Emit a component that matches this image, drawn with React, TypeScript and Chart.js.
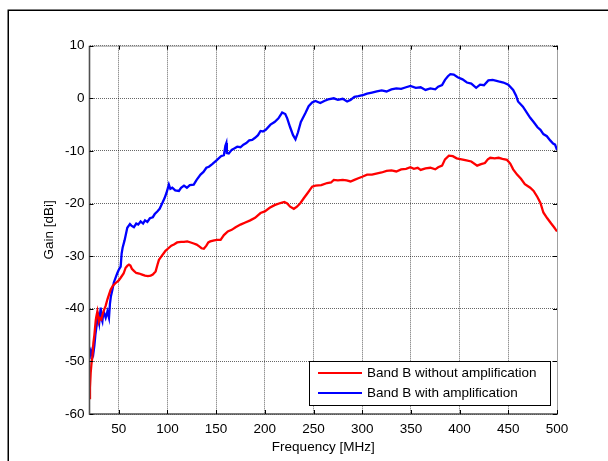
import React, { useEffect, useRef } from "react";
import { Chart, registerables } from "chart.js";

Chart.register(...registerables);

const xTicks = [50, 100, 150, 200, 250, 300, 350, 400, 450, 500];
const yTicks = [-60, -50, -40, -30, -20, -10, 0, 10];

const seriesNames = ["Band B without amplification", "Band B with amplification"];

const redFreq = [20, 20.5, 21.2, 22, 23, 24, 25, 26.4, 27, 28.1, 29, 29.7, 31, 32.2, 33.5, 34.9, 36.5, 38.4, 40, 41.7, 44, 46.9, 50, 52, 55, 57.1, 59, 60.5, 62, 63.5, 65.6, 68, 71, 74, 77, 80, 82.8, 85, 87.9, 90, 91.3, 94, 96.4, 98, 101, 104, 106.7, 110, 114, 117, 120.4, 124, 127, 130, 133, 135, 137.4, 140, 142, 144, 148, 151, 154.6, 158, 162, 166, 170, 175, 180, 185, 190, 195.6, 200, 205, 210, 216, 220, 223, 226, 229.8, 233, 236.6, 240, 244, 248.6, 252, 258, 264, 268, 270.8, 275, 280, 284, 288, 292, 296, 300, 305, 310, 316.6, 320, 325, 330, 335, 340, 345, 349.5, 353, 357, 360, 365, 370, 375, 378, 382, 385, 389, 393, 397, 402, 407, 412, 418, 422, 426, 429, 431.5, 436, 440, 444, 448.6, 452, 455, 459, 463, 467, 472.5, 476, 480, 483, 486, 490, 494, 497, 500];
const redGain = [-57, -55, -52.2, -50.5, -49, -46.5, -45, -42.2, -41.5, -40.5, -41.5, -42.4, -41.8, -42, -41, -40.2, -39.5, -38.2, -37.3, -36.4, -35.6, -35.1, -34.6, -34.1, -33.3, -32.2, -31.8, -31.6, -31.8, -32.4, -32.8, -33.2, -33.3, -33.5, -33.7, -33.8, -33.7, -33.5, -32.9, -31.5, -30.7, -30, -29.4, -29, -28.5, -28, -27.8, -27.4, -27.3, -27.3, -27.2, -27.4, -27.6, -27.8, -28.2, -28.5, -28.6, -28, -27.4, -27.2, -27, -26.9, -26.9, -26, -25.3, -25, -24.5, -24, -23.6, -23.2, -22.7, -21.8, -21.5, -20.8, -20.3, -19.9, -19.7, -20, -20.6, -21, -20.6, -19.9, -19, -18, -16.8, -16.6, -16.5, -16.1, -16, -15.5, -15.6, -15.5, -15.6, -15.8, -15.5, -15.2, -14.9, -14.5, -14.5, -14.2, -14.1, -13.8, -13.7, -13.9, -13.5, -13.4, -13.1, -13.4, -13.2, -13.6, -13.3, -13.2, -13.5, -13.1, -12.8, -11.6, -10.9, -11, -11.4, -11.6, -11.8, -12, -12.8, -12.5, -12.3, -11.6, -11.3, -11.4, -11.3, -11.5, -11.7, -12.4, -13.5, -14.5, -15.3, -16.3, -17, -17.6, -18.8, -19.9, -21.7, -22.8, -23.8, -24.5, -25.3];

const blueFreq = [20, 21, 22, 23, 24, 25, 26, 27.4, 28, 29, 30, 31.5, 32.5, 33.2, 34, 35, 36.6, 38.4, 40, 41, 42, 43.5, 45, 47, 48.6, 50.3, 52, 53, 54, 56, 58.8, 61.5, 63, 65.6, 68, 70, 72.5, 75, 77, 79.4, 82, 85, 87, 89.6, 92, 94.8, 97, 99, 101.5, 103, 105, 108, 111.8, 114, 117, 120, 123, 127, 130, 134, 137, 140, 142.6, 146, 151, 155, 158, 159.5, 160.5, 161, 163, 166, 169, 171.7, 175, 178, 181, 184, 187, 190, 193, 195.6, 198, 201, 205.8, 210, 214, 217.8, 221, 223, 226, 229, 231.5, 234, 237, 241.7, 245, 248.6, 252, 257, 261, 265, 270.8, 275, 280, 284.5, 288, 292, 296, 301.5, 305, 310, 315, 320, 325, 330, 335, 340, 345, 349.5, 355, 360, 365, 370, 375, 378, 382, 385, 388, 390.5, 394, 398, 403, 407.5, 412, 417, 421, 425, 429.5, 434, 440, 445, 450, 455, 458, 460, 465, 470, 472.5, 476, 480, 483, 486, 489.6, 493, 496, 498, 500];
const blueGain = [-49.5, -48, -48.5, -47.7, -48.4, -47, -45, -43, -42, -41.4, -42.6, -39.8, -42, -42.4, -41, -40.8, -41.7, -40.5, -41.7, -39, -37.6, -36.4, -35, -34, -33.2, -32.5, -32, -29.5, -28.4, -27, -24.6, -23.9, -24.2, -24.5, -23.8, -24, -23.4, -23.8, -23.2, -23.5, -22.8, -22.6, -22, -21.5, -21, -19.9, -19, -18, -16.4, -17.2, -17, -17.5, -17.6, -17, -16.6, -17, -16.5, -16.4, -15.5, -14.5, -14, -13.2, -13, -12.5, -11.7, -11, -10.8, -9, -8.5, -10.4, -10.5, -9.8, -9.5, -9.2, -9.3, -8.8, -8.5, -8, -7.9, -7.5, -7, -6.2, -6.3, -6, -5, -4.5, -3.8, -2.7, -3, -3.8, -5.5, -7, -7.8, -6.5, -4.5, -2.8, -1.5, -0.8, -0.5, -0.9, -0.5, -0.2, 0, -0.3, -0.1, -0.6, -0.3, 0.3, 0.4, 0.65, 0.9, 1.1, 1.3, 1.5, 1.3, 1.7, 1.9, 1.8, 2.1, 2.35, 2, 2.1, 1.6, 1.9, 1.7, 2.2, 2.5, 3.5, 4.2, 4.6, 4.5, 4, 3.6, 3, 2.8, 2, 2.6, 2.5, 3.4, 3.5, 3.2, 3, 2.6, 1.6, 0.5, -0.6, -1.6, -3, -3.7, -4.5, -5.5, -6, -6.8, -7.2, -8, -8.6, -8.8, -9.8];

const FONT = "'Liberation Sans', Arial, sans-serif";
const FS = 13.5;

const decorPlugin = {
  id: "decor",
  beforeDraw(chart: any) {
    const ctx = chart.ctx;
    ctx.save();
    ctx.fillStyle = "#ffffff";
    ctx.fillRect(0, 0, chart.width, chart.height);
    ctx.strokeStyle = "#000000";
    ctx.lineWidth = 1.5;
    ctx.strokeRect(8.25, 10.25, 700, 600);
    ctx.restore();
  },
  afterDraw(chart: any) {
    const ctx = chart.ctx;
    const a = chart.chartArea;
    const xs = chart.scales.x;
    const ys = chart.scales.y;
    ctx.save();
    ctx.lineWidth = 1;
    ctx.strokeStyle = "#a0a0a0";
    ctx.beginPath();
    ctx.moveTo(a.left, a.top + 0.5);
    ctx.lineTo(a.right, a.top + 0.5);
    ctx.moveTo(a.right + 0.5, a.top);
    ctx.lineTo(a.right + 0.5, a.bottom);
    ctx.stroke();
    ctx.lineWidth = 1.6;
    ctx.strokeStyle = "#505050";
    ctx.beginPath();
    ctx.moveTo(a.left, a.top);
    ctx.lineTo(a.left, a.bottom);
    ctx.lineTo(a.right + 1, a.bottom);
    ctx.stroke();
    ctx.lineWidth = 1;
    ctx.strokeStyle = "#000000";
    ctx.beginPath();
    const tl = 4;
    xTicks.forEach((v) => {
      const px = Math.round(xs.getPixelForValue(v)) + 0.5;
      ctx.moveTo(px, a.bottom);
      ctx.lineTo(px, a.bottom - tl);
      ctx.moveTo(px, a.top);
      ctx.lineTo(px, a.top + tl);
    });
    yTicks.forEach((v) => {
      const py = Math.round(ys.getPixelForValue(v)) + 0.5;
      ctx.moveTo(a.left, py);
      ctx.lineTo(a.left + tl, py);
      ctx.moveTo(a.right, py);
      ctx.lineTo(a.right - tl, py);
    });
    ctx.stroke();

    ctx.fillStyle = "#000000";
    ctx.font = `${FS}px ${FONT}`;
    ctx.textAlign = "center";
    ctx.textBaseline = "middle";
    ctx.fillText("Frequency [MHz]", (a.left + a.right) / 2, 447);
    ctx.save();
    ctx.translate(49, (a.top + a.bottom) / 2);
    ctx.rotate(-Math.PI / 2);
    ctx.fillText("Gain [dBi]", 0, 0);
    ctx.restore();

    const lx = 309.5, ly = 361.5, lw = 241, lh = 44;
    ctx.fillStyle = "#ffffff";
    ctx.fillRect(lx, ly, lw, lh);
    ctx.strokeStyle = "#000000";
    ctx.lineWidth = 1;
    ctx.strokeRect(lx, ly, lw, lh);
    const colors = ["#ff0000", "#0000ff"];
    const rows = [373, 393];
    ctx.textAlign = "left";
    ctx.textBaseline = "middle";
    seriesNames.forEach((name, i) => {
      ctx.strokeStyle = colors[i];
      ctx.lineWidth = 2.2;
      ctx.beginPath();
      ctx.moveTo(318, rows[i]);
      ctx.lineTo(362, rows[i]);
      ctx.stroke();
      ctx.fillStyle = "#000000";
      ctx.fillText(name, 367, rows[i] + 0.5);
    });
    ctx.restore();
  },
};

export default function App() {
  const ref = useRef<HTMLCanvasElement>(null);
  useEffect(() => {
    if (!ref.current) return;
    const chart = new Chart(ref.current, {
      type: "line",
      data: {
        datasets: [
          {
            label: seriesNames[0],
            data: redFreq.map((f, i) => ({ x: f, y: redGain[i] })),
            borderColor: "#ff0000",
            borderWidth: 2.3,
            pointRadius: 0,
            tension: 0,
            fill: false,
          },
          {
            label: seriesNames[1],
            data: blueFreq.map((f, i) => ({ x: f, y: blueGain[i] })),
            borderColor: "#0000ff",
            borderWidth: 2.3,
            pointRadius: 0,
            tension: 0,
            fill: false,
          },
        ],
      },
      options: {
        animation: false,
        responsive: false,
        devicePixelRatio: 1,
        layout: { padding: { top: 45.7, right: 51, left: 0, bottom: 0 } },
        plugins: {
          legend: { display: false },
          tooltip: { enabled: false },
        },
        scales: {
          x: {
            type: "linear",
            min: 20,
            max: 500,
            afterBuildTicks: (s: any) => {
              s.ticks = xTicks.map((v) => ({ value: v }));
            },
            afterFit: (s: any) => {
              s.height = 47;
            },
            grid: {
              color: "rgba(0,0,0,0.6)",
              lineWidth: 1,
              drawTicks: false,
            },
            border: { display: false, dash: [1, 1] },
            ticks: {
              color: "#000000",
              font: { family: FONT, size: FS },
              padding: 7,
              maxRotation: 0,
              autoSkip: false,
            },
          },
          y: {
            type: "linear",
            min: -60,
            max: 10,
            afterBuildTicks: (s: any) => {
              s.ticks = yTicks.map((v) => ({ value: v }));
            },
            afterFit: (s: any) => {
              s.width = 89.5;
            },
            grid: {
              color: "rgba(0,0,0,0.6)",
              lineWidth: 1,
              drawTicks: false,
            },
            border: { display: false, dash: [1, 1] },
            ticks: {
              color: "#000000",
              font: { family: FONT, size: FS },
              padding: 5,
              autoSkip: false,
            },
          },
        },
      },
      plugins: [decorPlugin],
    });
    return () => chart.destroy();
  }, []);
  return (
    <div style={{ position: "absolute", left: 0, top: 0, width: 608, height: 461 }}>
      <canvas ref={ref} width={608} height={461} style={{ display: "block" }} />
    </div>
  );
}
